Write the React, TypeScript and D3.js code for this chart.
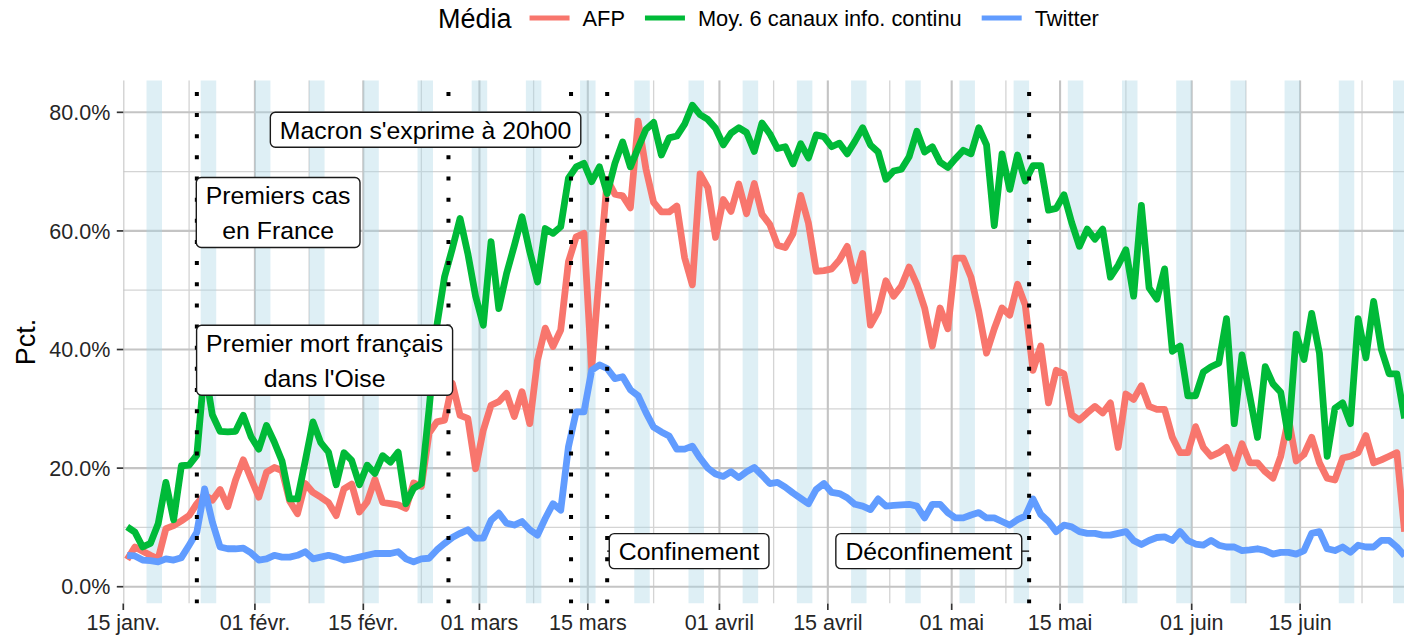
import { useEffect, useRef } from 'react'
import * as d3 from 'd3'

const W = 1404
const H = 636

// daily series, one point per day at noon starting 15 Jan 2020
const START = new Date(Date.UTC(2020, 0, 15, 12))

const afp = [
  4.6, 6.7, 6.0, 5.3, 4.7, 9.8, 10.3, 11.1, 12, 14, 15.5, 14.6, 16.4, 13.5, 18, 21.4, 18.2, 15.1, 19.3, 20.1,
  19.6, 14.4, 12.3, 17.4, 15.9, 15.1, 14.2, 12, 16.5, 17.3, 12.6, 14.3, 18.1, 14.2, 14, 13.8, 13.2, 17.5, 16.9, 25.9,
  27.8, 28.1, 34.3, 28.9, 28.4, 19.9, 26.4, 30.6, 31.2, 32.6, 28.7, 32.9, 27.5, 38.2, 43.6, 40.5, 43.3, 54.8, 59, 59.6,
  36.7, 53, 68.7, 66.2, 65.9, 63.9, 78.5, 70.5, 64.8, 63.2, 63.2, 64.2, 55.5, 50.9, 69.6, 67.3, 58.9, 65.3, 63.3, 67.9,
  62.9, 68, 62.8, 61.1, 57.6, 57.2, 59.5, 66, 61.3, 53.2, 53.3, 53.6, 55.1, 57.4, 51.6, 56.2, 44.1, 46.4, 51.6, 49,
  50.7, 53.9, 51, 47, 40.6, 47, 43.5, 55.4, 55.4, 52.2, 46.4, 39.4, 43.5, 47, 45.8, 51, 47.5, 36.5, 40.6, 31,
  36.5, 35.9, 29, 28.1, 29.3, 30.4, 29.3, 31, 23.5, 32.5, 31.6, 33.9, 30.4, 29.9, 29.9, 25.2, 22.6, 22.6, 27, 23.5,
  22, 22.6, 23.5, 20, 24.1, 20.9, 20.9, 19.4, 18.3, 22, 28.4, 21.2, 22.3, 25.2, 20.9, 18.3, 18, 21.7, 22, 22.6,
  25.5, 20.9, 21.4, 22, 22.6, 9.3,
]

const moy6 = [
  10.1, 9.2, 6.7, 7.3, 10.6, 17.6, 11.3, 20.4, 20.5, 22.2, 37, 29, 26.2, 26.1, 26.2, 28.9, 25.3, 23.2, 27.2, 24.4,
  21.2, 14.8, 14.8, 21.2, 27.8, 24.3, 22.7, 17.2, 22.6, 21.3, 17.2, 20.5, 19.1, 22.1, 21, 22.7, 14, 16.6, 17.4, 30,
  44, 52.3, 57, 62.1, 56.2, 49, 44.1, 58.2, 46.9, 52.8, 57.5, 62.4, 56.5, 51.4, 60.4, 59.6, 60.7, 68.9, 70.8, 71.4,
  68.3, 70.8, 66.3, 71.4, 75, 70.8, 74, 77.1, 78.3, 72.8, 75.7, 76, 78, 81.2, 79.6, 78.8, 77.3, 74.5, 76.5, 77.4,
  76.6, 73.4, 78.2, 76.4, 73.9, 74.2, 71.3, 74.7, 72.3, 76.2, 75.9, 74.2, 74.8, 73, 75.1, 77.4, 74.5, 73.3, 68.7, 70.1,
  70.4, 72.5, 76.8, 73.3, 74.2, 71.6, 70.7, 72.2, 73.6, 73, 77.4, 74.5, 60.9, 73, 67, 72.8, 68.4, 71, 71, 63.5,
  63.8, 66.1, 61.4, 57.4, 60.3, 58.6, 60.3, 52.2, 54.2, 56.8, 49, 64.3, 50.4, 48.5, 53.6, 39.7, 40.6, 32.2, 32.2, 36.2,
  37.1, 37.7, 45.2, 27.5, 39.1, 32.2, 25.2, 37.1, 34.2, 32.8, 25.2, 42.6, 38.3, 46.1, 39.4, 22, 30.1, 31, 27.5, 45.2,
  38.6, 48.1, 40, 35.9, 35.9, 28.4,
]

const twitter = [
  5.3, 5.2, 4.5, 4.4, 4.2, 4.7, 4.5, 4.9, 7.0, 9.2, 16.5, 10.9, 6.7, 6.4, 6.4, 6.5, 5.7, 4.5, 4.7, 5.3,
  5.0, 5.0, 5.3, 5.9, 4.7, 5.0, 5.3, 5.0, 4.5, 4.7, 5.0, 5.3, 5.6, 5.6, 5.6, 5.9, 4.7, 4.2, 4.7, 4.8,
  6.2, 7.3, 8.3, 9.0, 9.6, 8.2, 8.2, 11.2, 12.4, 10.7, 10.4, 11, 9.6, 8.7, 11.5, 14, 12.9, 23.6, 29.5, 29.5,
  36.5, 37.4, 36.8, 35.1, 35.4, 33.2, 32.2, 29.4, 26.9, 26.1, 25.4, 23.2, 23.2, 23.7, 21.7, 20, 19, 18.6, 19.4, 18.4,
  19.4, 20.1, 18.8, 17.4, 17.6, 16.8, 15.8, 14.9, 14, 16.4, 17.4, 15.9, 15.7, 15, 13.9, 13.6, 13, 14.8, 13.6, 13.7,
  13.8, 13.9, 13.6, 11.6, 13.9, 13.9, 12.5, 11.6, 11.6, 12.1, 12.5, 11.6, 11.6, 11, 10.4, 11.3, 11.9, 14.8, 12.2, 11,
  9.3, 10.4, 10.1, 9.3, 9, 9, 8.7, 8.7, 9, 9.3, 7.8, 7.1, 7.8, 8.3, 8.4, 7.8, 9.3, 7.8, 7.2, 7,
  7.8, 7, 6.7, 6.7, 6.1, 6.2, 6.4, 6.1, 5.5, 5.8, 5.8, 5.5, 6.1, 9, 9.3, 6.4, 6.1, 6.7, 5.8, 7,
  6.7, 6.7, 7.8, 7.8, 6.7, 5.2,
]

const seriesNames = ['AFP', 'Moy. 6 canaux info. continu', 'Twitter']
const seriesColors = ['#F8766D', '#00BA38', '#619CFF']
const seriesValues = [afp, moy6, twitter]

const yTicks = [0, 20, 40, 60, 80]

// key dates (vertical dotted lines)
const events = [
  new Date(Date.UTC(2020, 0, 24, 12)),
  new Date(Date.UTC(2020, 1, 26, 0)),
  new Date(Date.UTC(2020, 2, 12, 20)),
  new Date(Date.UTC(2020, 2, 17, 12)),
  new Date(Date.UTC(2020, 4, 11, 0)),
]

// annotation labels, centre in data coords, linked to an event
const labels = [
  { lines: ['Premiers cas', 'en France'], date: new Date(Date.UTC(2020, 1, 4, 0)), value: 63.1, event: 0 },
  { lines: ['Premier mort français', "dans l'Oise"], date: new Date(Date.UTC(2020, 1, 10, 0)), value: 38.2, event: 1 },
  { lines: ["Macron s'exprime à 20h00"], date: new Date(Date.UTC(2020, 1, 23, 1)), value: 77.05, event: 2 },
  { lines: ['Confinement'], date: new Date(Date.UTC(2020, 2, 28, 2)), value: 6.0, event: 3 },
  { lines: ['Déconfinement'], date: new Date(Date.UTC(2020, 3, 28, 1)), value: 6.0, event: 4 },
]

const fr = d3.timeFormatLocale({
  dateTime: '%A %e %B %Y à %X',
  date: '%d/%m/%Y',
  time: '%H:%M:%S',
  periods: ['AM', 'PM'],
  days: ['dimanche', 'lundi', 'mardi', 'mercredi', 'jeudi', 'vendredi', 'samedi'],
  shortDays: ['dim.', 'lun.', 'mar.', 'mer.', 'jeu.', 'ven.', 'sam.'],
  months: ['janvier', 'février', 'mars', 'avril', 'mai', 'juin', 'juillet', 'août', 'septembre', 'octobre', 'novembre', 'décembre'],
  shortMonths: ['janv.', 'févr.', 'mars', 'avril', 'mai', 'juin', 'juil.', 'août', 'sept.', 'oct.', 'nov.', 'déc.'],
})
const fmtDate = fr.utcFormat('%d %b')

const FONT = 'Liberation Sans, Arial, Helvetica, sans-serif'

export default function App() {
  const svgRef = useRef<SVGSVGElement>(null)

  useEffect(() => {
    if (!svgRef.current) return
    const svg = d3.select(svgRef.current)
    svg.selectAll('*').remove()

    const left = 123.3
    const top = 80.3
    const bottom = 603.5

    const x0 = new Date(Date.UTC(2020, 0, 15))
    const x1 = new Date(Date.UTC(2020, 5, 29))
    const x = d3.scaleUtc().domain([x0, x1]).range([left, left + 166 * 7.742])
    const y = d3.scaleLinear().domain([-2.83, 85.4]).range([bottom, top])
    const right = x.range()[1]

    svg.append('rect').attr('width', W).attr('height', H).attr('fill', '#fff')

    const clip = svg.append('defs').append('clipPath').attr('id', 'panel')
    clip.append('rect').attr('x', left).attr('y', top).attr('width', right - left).attr('height', bottom - top)

    const panel = svg.append('g').attr('clip-path', 'url(#panel)')

    // grid
    const majorX = d3.utcDay.range(x0, d3.utcDay.offset(x1, 4)).filter(d => d.getUTCDate() === 1 || d.getUTCDate() === 15)
    const minorX = d3.pairs(majorX).map(([a, b]) => new Date((+a + +b) / 2))
    const minorY = d3.pairs(yTicks).map(([a, b]) => (a + b) / 2)

    panel.selectAll('.gminy').data(minorY).join('line')
      .attr('x1', left).attr('x2', right).attr('y1', d => y(d)).attr('y2', d => y(d))
      .attr('stroke', '#d4d4d4').attr('stroke-width', 1.3)
    panel.selectAll('.gminx').data(minorX).join('line')
      .attr('x1', d => x(d)).attr('x2', d => x(d)).attr('y1', top).attr('y2', bottom)
      .attr('stroke', '#d4d4d4').attr('stroke-width', 1.3)
    panel.selectAll('.gmajy').data(yTicks).join('line')
      .attr('x1', left).attr('x2', right).attr('y1', d => y(d)).attr('y2', d => y(d))
      .attr('stroke', '#c4c4c4').attr('stroke-width', 2.1)
    panel.selectAll('.gmajx').data(majorX).join('line')
      .attr('x1', d => x(d)).attr('x2', d => x(d)).attr('y1', top).attr('y2', bottom)
      .attr('stroke', '#c4c4c4').attr('stroke-width', 2.1)

    // weekends
    const saturdays = d3.utcSaturday.range(x0, x1)
    panel.selectAll('.we').data(saturdays).join('rect')
      .attr('x', d => x(d))
      .attr('width', d => x(d3.utcDay.offset(d, 2)) - x(d))
      .attr('y', top).attr('height', bottom - top)
      .attr('fill', '#ADD8E6').attr('fill-opacity', 0.4)

    // series
    const line = d3.line<number>()
      .x((_, i) => x(d3.utcDay.offset(START, i)))
      .y(d => y(d))
    seriesValues.forEach((vals, k) => {
      panel.append('path')
        .datum(vals)
        .attr('d', line)
        .attr('fill', 'none')
        .attr('stroke', seriesColors[k])
        .attr('stroke-width', 6.8)
        .attr('stroke-linejoin', 'round')
        .attr('stroke-linecap', 'butt')
    })

    // event lines
    panel.selectAll('.ev').data(events).join('line')
      .attr('x1', d => x(d)).attr('x2', d => x(d))
      .attr('y1', bottom).attr('y2', top)
      .attr('stroke', '#000').attr('stroke-width', 4)
      .attr('stroke-dasharray', '4 17.15')

    // axes
    const axes = svg.append('g')
    axes.selectAll('.yt').data(yTicks).join('line')
      .attr('x1', left - 6.5).attr('x2', left).attr('y1', d => y(d)).attr('y2', d => y(d))
      .attr('stroke', '#333').attr('stroke-width', 1.7)
    axes.selectAll('.yl').data(yTicks).join('text')
      .attr('x', left - 13).attr('y', d => y(d)).attr('dy', '0.36em')
      .attr('text-anchor', 'end').attr('font-family', FONT).attr('font-size', 21.5).attr('fill', '#262626')
      .text(d => d3.format('.1f')(d) + '%')
    const xTicks = majorX.filter(d => x(d) <= W)
    axes.selectAll('.xt').data(xTicks).join('line')
      .attr('x1', d => x(d)).attr('x2', d => x(d)).attr('y1', bottom).attr('y2', bottom + 6.5)
      .attr('stroke', '#333').attr('stroke-width', 1.7)
    axes.selectAll('.xl').data(xTicks).join('text')
      .attr('x', d => x(d)).attr('y', 630)
      .attr('text-anchor', 'middle').attr('font-family', FONT).attr('font-size', 21.5).attr('fill', '#262626')
      .text(d => fmtDate(d))
    axes.append('text')
      .attr('transform', `translate(35,${(top + bottom) / 2}) rotate(-90)`)
      .attr('text-anchor', 'middle').attr('font-family', FONT).attr('font-size', 27).attr('fill', '#000')
      .text('Pct.')

    // labels
    const lineH = 35
    const lab = svg.append('g')
    labels.forEach(l => {
      const cx = x(l.date)
      const cy = y(l.value)
      const g = lab.append('g')
      const n = l.lines.length
      const rect = g.append('rect')
      const txt = g.append('text')
        .attr('font-family', FONT).attr('font-size', 24.8).attr('fill', '#000').attr('text-anchor', 'middle')
      l.lines.forEach((s, i) => {
        txt.append('tspan').attr('x', cx).attr('y', cy + (i - (n - 1) / 2) * lineH).attr('dy', '0.36em').text(s)
      })
      const bb = (txt.node() as SVGTextElement).getBBox()
      const bw = bb.width + 19
      const bh = n * lineH
      const bx = cx - bw / 2
      rect.attr('x', bx).attr('y', cy - bh / 2).attr('width', bw).attr('height', bh)
        .attr('rx', 5).attr('fill', '#fff').attr('stroke', '#1a1a1a').attr('stroke-width', 1.4)
      const ex = x(events[l.event])
      if (ex > bx + bw || ex < bx) {
        const edge = ex > bx + bw ? bx + bw : bx
        lab.insert('line', ':first-child')
          .attr('x1', edge).attr('x2', ex).attr('y1', cy).attr('y2', cy)
          .attr('stroke', '#1a1a1a').attr('stroke-width', 1.4)
      }
    })

    // legend
    const lg = svg.append('g').attr('font-family', FONT)
    const title = lg.append('text').attr('x', 438).attr('y', 18).attr('dy', '0.36em')
      .attr('font-size', 27).text('Média')
    let cur = 438 + (title.node() as SVGTextElement).getComputedTextLength() + 18
    seriesNames.forEach((name, k) => {
      lg.append('line').attr('x1', cur).attr('x2', cur + 40).attr('y1', 18).attr('y2', 18)
        .attr('stroke', seriesColors[k]).attr('stroke-width', 5)
      const t = lg.append('text').attr('x', cur + 53).attr('y', 18).attr('dy', '0.36em')
        .attr('font-size', 21.8).text(name)
      cur = cur + 53 + (t.node() as SVGTextElement).getComputedTextLength() + 20
    })
  }, [])

  return (
    <>
      <style>{'body{margin:0}'}</style>
      <svg ref={svgRef} width={W} height={H} style={{ display: 'block' }} />
    </>
  )
}
